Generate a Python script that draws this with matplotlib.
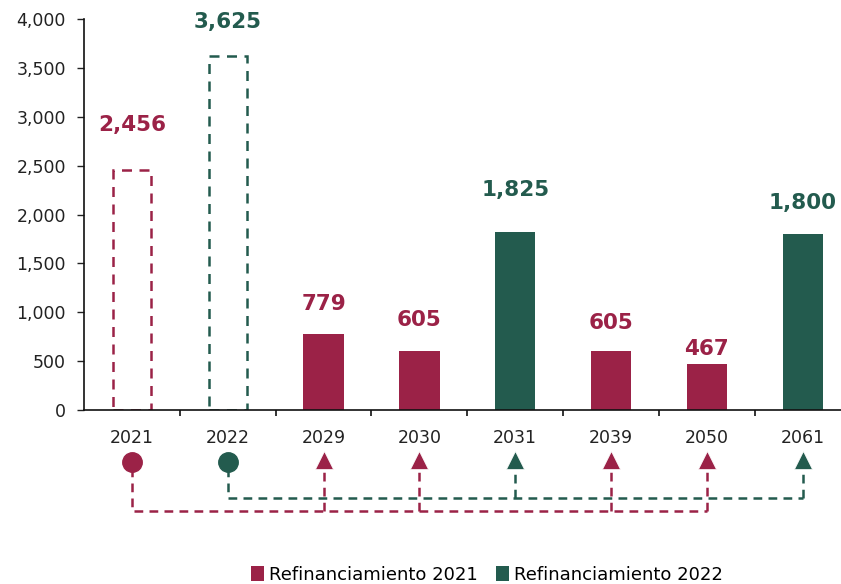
import matplotlib
matplotlib.use("Agg")
import matplotlib.pyplot as plt
from matplotlib.patches import Patch

plt.rcParams['font.family'] = ['DejaVu Sans']

# data
years = ["2021", "2022", "2029", "2030", "2031", "2039", "2050", "2061"]
values = [2456, 3625, 779, 605, 1825, 605, 467, 1800]
series = ["2021", "2022", "2021", "2021", "2022", "2021", "2021", "2022"]
refinanced = [True, True, False, False, False, False, False, False]
yticks = [0, 500, 1000, 1500, 2000, 2500, 3000, 3500, 4000]
legend_labels = ["Refinanciamiento 2021", "Refinanciamiento 2022"]

maroon = "#9B2247"
green = "#235B4E"
colors = {"2021": maroon, "2022": green}

fig = plt.figure(figsize=(8.41, 5.84), dpi=100)
W, H = 841, 584
ax = fig.add_axes([84 / W, (H - 410) / H, (841 - 84) / W, (410 - 19) / H])

x = list(range(len(years)))
# distance from bar top to label centre, in points
label_offsets = [32, 24.5, 21.5, 22, 30, 20, 11, 22]
for i, (v, s, r) in enumerate(zip(values, series, refinanced)):
    c = colors[s]
    if r:
        ax.bar(i, v, width=0.40, facecolor="none", edgecolor=c, linewidth=1.8,
               linestyle=(0, (4, 3)))
    else:
        ax.bar(i, v, width=0.42, color=c)
    ax.annotate(f"{v:,}", (i, v), xytext=(0, label_offsets[i]), textcoords="offset points",
                ha="center", va="center", fontsize=15.5, fontweight="bold", color=c,
                annotation_clip=False)

ax.set_xlim(-0.5, 7.4)
ax.set_ylim(0, 4000)
ax.set_yticks(yticks)
ax.set_yticklabels([f"{t:,}" for t in yticks])
ax.set_xticks(x)
ax.set_xticklabels(years)
ax.set_xticks([i + 0.5 for i in x[:-1]], minor=True)
ax.tick_params(axis="y", length=5, width=1, pad=8, labelsize=12.5, colors="#222222")
ax.tick_params(axis="x", length=0, pad=14, labelsize=12.5, colors="#222222")
ax.tick_params(axis="x", which="minor", length=4, width=1.2, color="#111111")
ax.spines["top"].set_visible(False)
ax.spines["right"].set_visible(False)
ax.spines["left"].set_color("#111111")
ax.spines["bottom"].set_color("#111111")
ax.spines["left"].set_linewidth(1.2)
ax.spines["bottom"].set_linewidth(1.2)

# refinancing flow diagram below the axis (y in pixel rows)
ax2 = fig.add_axes([84 / W, (H - 530) / H, (841 - 84) / W, 90 / H])
ax2.set_xlim(-0.5, 7.4)
ax2.set_ylim(530, 440)
ax2.axis("off")
dash = (0, (3.5, 2.5))

for s, y_line in [("2022", 498), ("2021", 511)]:
    c = colors[s]
    idx = [i for i in x if series[i] == s]
    src = [i for i in idx if refinanced[i]][0]
    dst = [i for i in idx if not refinanced[i]]
    ax2.plot([src, src, max(dst)], [468, y_line, y_line], color=c, lw=1.8, linestyle=dash)
    for d in dst:
        ax2.plot([d, d], [y_line, 464], color=c, lw=1.8, linestyle=dash)
        ax2.plot(d, 460, marker="^", markersize=13.5, color=c, markeredgecolor="white",
                 markeredgewidth=0.5)
    ax2.plot(src, 462, marker="o", markersize=14, color=c)

handles = [Patch(facecolor=maroon), Patch(facecolor=green)]
fig.legend(handles, legend_labels, loc="center", bbox_to_anchor=(487 / W, 1 - 575 / H),
           ncol=2, frameon=False, fontsize=13, handlelength=0.7, handleheight=0.9,
           handletextpad=0.3, columnspacing=1.0)

fig.savefig("out.png", dpi=100)
